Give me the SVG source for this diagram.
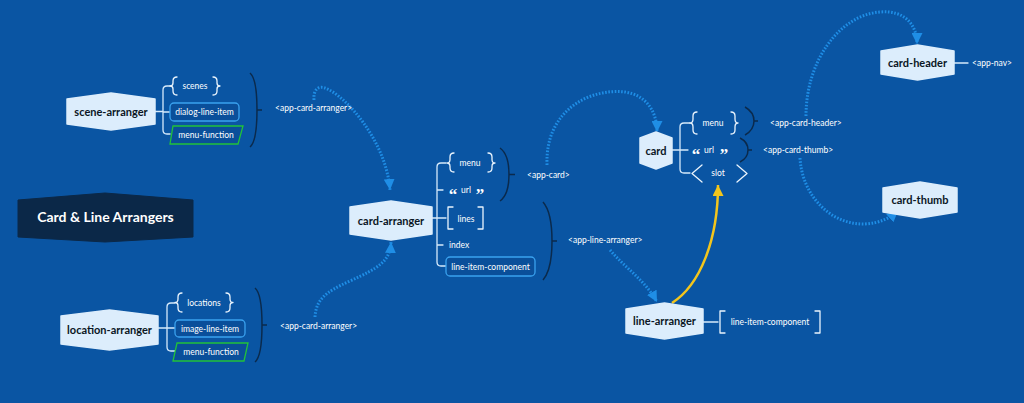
<svg xmlns="http://www.w3.org/2000/svg" width="1024" height="403" viewBox="0 0 1024 403">
<defs>
<style>
.node{fill:#dcedfc;stroke:#dcedfc;stroke-width:1.5;stroke-linejoin:round}
.nt{font-family:Lato,"Liberation Sans",sans-serif;font-weight:700;font-size:11px;fill:#0a1624;text-anchor:middle}
.ct{font-family:Lato,"Liberation Sans",sans-serif;font-size:8.5px;fill:#ffffff;text-anchor:middle}
.lt{font-family:Lato,"Liberation Sans",sans-serif;font-size:8.5px;fill:#ffffff}
.qt{font-family:"Liberation Serif","DejaVu Serif",serif;font-weight:700;font-size:17px;fill:#ffffff;text-anchor:middle}
.tree{fill:none;stroke:#d6eafb;stroke-width:1.3;stroke-linecap:round}
.br{fill:none;stroke:#eaf4fd;stroke-width:1.3;stroke-linecap:round;stroke-linejoin:round}
.par{fill:none;stroke:#0b2a4c;stroke-width:1.5}
.box{fill:#0a4f9a;stroke:#3aa2ef;stroke-width:1.3}
.fn{fill:#0a4f9a;stroke:#22c23a;stroke-width:1.3}
.dot{fill:none;stroke:#1f8ee6;stroke-width:3;stroke-dasharray:1.6 1.6}
.yel{fill:none;stroke:#f3c51c;stroke-width:2.5}
</style>
<marker id="ab" markerUnits="userSpaceOnUse" markerWidth="11" markerHeight="11" viewBox="0 0 10 10" refX="10" refY="5" orient="auto"><path d="M0,0 L10,5 L0,10 Z" fill="#1f8ee6"/></marker>
<marker id="ay" markerUnits="userSpaceOnUse" markerWidth="11" markerHeight="11" viewBox="0 0 10 10" refX="10" refY="5" orient="auto"><path d="M0,0 L10,5 L0,10 Z" fill="#f3c51c"/></marker>
</defs>
<rect width="1024" height="403" fill="#0a55a3"/>

<g id="connectors">
<path class="dot" d="M314,100 C313,88 320,86 325,88 C345,95 386,140 390,190" marker-end="url(#ab)" />
<path class="dot" d="M315,317 C316,300 325,292 350,281 C378,268 390,262 391,242" marker-end="url(#ab)"/>
<path class="dot" d="M547,165 C545,110 590,88 625,92 C645,95 657,110 657,132" marker-end="url(#ab)"/>
<path class="dot" d="M610,250 C625,268 645,280 657,302" marker-end="url(#ab)"/>
<path class="dot" d="M806,116 C806,60 840,15 880,12 C905,10 917,25 917,44" marker-end="url(#ab)"/>
<path class="dot" d="M800,158 C802,195 830,225 865,224 C880,223 890,218 898,211" marker-end="url(#ab)"/>
<path class="yel" d="M672,303 C700,285 718,240 718,185" marker-end="url(#ay)"/>
</g>

<g id="title">
<path d="M18,200 L105,193 L193,200 L193,237 L105,242 L18,237 Z" fill="#0b2848" stroke="#0b2848" stroke-linejoin="round"/>
<text x="105.5" y="222" font-family="Lato,'Liberation Sans',sans-serif" font-weight="700" font-size="14" fill="#ffffff" text-anchor="middle">Card &amp; Line Arrangers</text>
</g>

<g id="scene-arranger">
<path class="tree" d="M155,111.5 H163 M170,86 H167 Q163,86 163,90 V130 Q163,134 167,134 H170 M163,112 H170"/>
<path class="node" d="M67,99 L111,93 L155,99 L155,124 L111,130 L67,124 Z"/>
<text class="nt" x="111" y="115.5">scene-arranger</text>
<path class="br" d="M177,77 Q173,77 173,81 V83 Q173,86 170,86 Q173,86 173,89 V91 Q173,95 177,95"/>
<path class="br" d="M213,77 Q217,77 217,81 V83 Q217,86 220,86 Q217,86 217,89 V91 Q217,95 213,95"/>
<text class="ct" x="195" y="89">scenes</text>
<rect class="box" x="170" y="103" width="69" height="18" rx="4"/>
<text class="ct" x="204.5" y="115">dialog-line-item</text>
<path class="fn" d="M173,126 L243,126 L238,144 L170,144 Z"/>
<text class="ct" x="206" y="138">menu-function</text>
<path class="par" d="M250,73 C256,78 257,95 257,110 C257,125 256,142 250,147 M257,110 H262"/>
<text class="lt" x="275" y="111">&lt;app-card-arranger&gt;</text>
</g>

<g id="location-arranger">
<path class="tree" d="M158,328 H167 M175,303 H171 Q167,303 167,307 V347 Q167,351 171,351 H175 M167,328 H175"/>
<path class="node" d="M61,316 L109.5,310 L158,316 L158,344 L109.5,350 L61,344 Z"/>
<text class="nt" x="109.5" y="334">location-arranger</text>
<path class="br" d="M182,293 Q178,293 178,297 V299 Q178,302.5 175,302.5 Q178,302.5 178,306 V308 Q178,312 182,312"/>
<path class="br" d="M226,293 Q230,293 230,297 V299 Q230,302.5 233,302.5 Q230,302.5 230,306 V308 Q230,312 226,312"/>
<text class="ct" x="204" y="305.5">locations</text>
<rect class="box" x="175" y="320" width="70" height="17" rx="4"/>
<text class="ct" x="210" y="331.5">image-line-item</text>
<path class="fn" d="M177,343 L248,343 L244,361 L173,361 Z"/>
<text class="ct" x="211" y="355">menu-function</text>
<path class="par" d="M255,288 C261,293 262,310 262,325 C262,340 261,357 255,362 M262,325 H267"/>
<text class="lt" x="280" y="329">&lt;app-card-arranger&gt;</text>
</g>

<g id="card-arranger">
<path class="tree" d="M432,218 H437 M446,163 H441 Q437,163 437,167 V262 Q437,266 441,266 H446 M437,190 H443 M437,218 H446 M437,245 H443"/>
<path class="node" d="M350,207 L391,201 L432,207 L432,234 L391,240 L350,234 Z"/>
<text class="nt" x="391" y="224.5">card-arranger</text>
<path class="br" d="M454,153 Q450,153 450,157 V159.5 Q450,163 447,163 Q450,163 450,166.5 V168 Q450,172 454,172"/>
<path class="br" d="M488,153 Q492,153 492,157 V159.5 Q492,163 495,163 Q492,163 492,166.5 V168 Q492,172 488,172"/>
<text class="ct" x="470" y="166">menu</text>
<text class="qt" x="453" y="200">“</text>
<text class="ct" x="466" y="193">url</text>
<text class="qt" x="480" y="200">”</text>
<path class="br" d="M453,207 H448 V229 H453 M478,207 H483 V229 H478"/>
<text class="ct" x="466" y="221.5">lines</text>
<text class="lt" x="449" y="248">index</text>
<rect class="box" x="446" y="257" width="89" height="19" rx="4"/>
<text class="ct" x="490.5" y="269.5">line-item-component</text>
<path class="par" d="M500,148 C507,153 509,164 509,174.5 C509,185 507,196 500,201 M509,174.5 H515"/>
<text class="lt" x="527" y="178">&lt;app-card&gt;</text>
<path class="par" d="M543,202 C550,210 552,228 552,241 C552,254 550,272 543,280 M552,241 H557"/>
<text class="lt" x="568" y="243">&lt;app-line-arranger&gt;</text>
</g>

<g id="card">
<path class="tree" d="M672,150 H680 M690,123 H684 Q680,123 680,127 V169 Q680,173 684,173 H690 M680,150 H688"/>
<path class="node" d="M640,138 L656,132 L672,138 L672,163 L656,169 L640,163 Z"/>
<text class="nt" x="656" y="154.5">card</text>
<path class="br" d="M697,112 Q693,112 693,116 V119 Q693,123 690,123 Q693,123 693,127 V130 Q693,134 697,134"/>
<path class="br" d="M731,112 Q735,112 735,116 V119 Q735,123 738,123 Q735,123 735,127 V130 Q735,134 731,134"/>
<text class="ct" x="713" y="126">menu</text>
<text class="qt" x="696" y="160">“</text>
<text class="ct" x="709" y="153">url</text>
<text class="qt" x="724" y="160">”</text>
<path class="br" d="M702,165 L692,173.5 L702,182 M737,165 L747,173.5 L737,182"/>
<text class="ct" x="718" y="176">slot</text>
<path class="par" d="M745,107 C752,111 754,116 754,121 C754,126 752,131 745,135 M754,121 H758"/>
<text class="lt" x="770" y="126">&lt;app-card-header&gt;</text>
<path class="par" d="M740,138 C746,141 748,146 748,150 C748,154 746,159 740,162 M748,150 H752"/>
<text class="lt" x="763" y="153">&lt;app-card-thumb&gt;</text>
</g>

<g id="card-header">
<path class="tree" d="M954,63 H968"/>
<path class="node" d="M881,51 L917.5,45 L954,51 L954,74 L917.5,80 L881,74 Z"/>
<text class="nt" x="917.5" y="66.5">card-header</text>
<text class="lt" x="972" y="66">&lt;app-nav&gt;</text>
</g>

<g id="card-thumb">
<path class="node" d="M883,188 L920,182 L957,188 L957,212 L920,218 L883,212 Z"/>
<text class="nt" x="920" y="204">card-thumb</text>
</g>

<g id="line-arranger">
<path class="tree" d="M703,322 H718"/>
<path class="node" d="M626,309 L664.5,303 L703,309 L703,333 L664.5,339 L626,333 Z"/>
<text class="nt" x="664.5" y="325">line-arranger</text>
<path class="br" d="M725,311 H720 V333 H725 M815,311 H820 V333 H815"/>
<text class="ct" x="770" y="325">line-item-component</text>
</g>
</svg>
